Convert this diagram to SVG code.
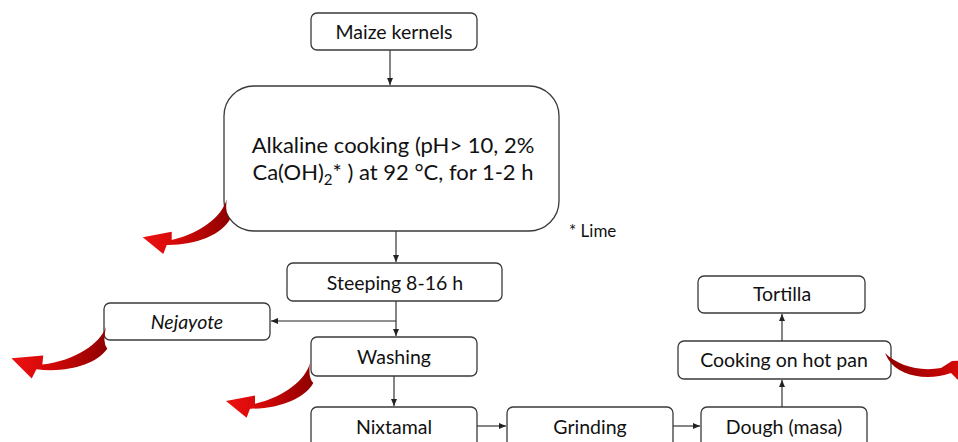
<svg xmlns="http://www.w3.org/2000/svg" width="958" height="442" viewBox="0 0 958 442">
<defs>
<style>
.box{fill:#fff;stroke:#3a3a3a;stroke-width:1.3}
.lbl{font-family:Lato,"Open Sans","Liberation Sans",sans-serif;font-size:19.5px;fill:#111;text-anchor:middle}
.big{font-family:Lato,"Open Sans","Liberation Sans",sans-serif;font-size:22px;fill:#111;text-anchor:middle}
.con{stroke:#222;stroke-width:1.1;fill:none}
</style>
<marker id="ah" markerWidth="8" markerHeight="8" refX="7" refY="4" orient="auto" markerUnits="userSpaceOnUse">
<path d="M0,1 L7,4 L0,7 Z" fill="#222"/>
</marker>
<linearGradient id="rg" x1="0" y1="0" x2="1" y2="0">
<stop offset="0" stop-color="#ee1111"/>
<stop offset="0.45" stop-color="#d00808"/>
<stop offset="1" stop-color="#8e0000"/>
</linearGradient>
<linearGradient id="rg2" x1="0" y1="0" x2="1" y2="0">
<stop offset="0" stop-color="#8e0000"/>
<stop offset="0.6" stop-color="#c00404"/>
<stop offset="1" stop-color="#e81010"/>
</linearGradient>
<path id="red" d="M0 0 C-4 16 -25 34 -55 40.7 L-55 32.4 L-84 38 L-63.4 54.7 L-60 45.7 C-30 46 -5 35 3.3 20 Q-2 15 0 0 Z" fill="url(#rg)"/>
</defs>

<g id="connectors">
<line class="con" x1="390" y1="50" x2="390" y2="85" marker-end="url(#ah)"/>
<line class="con" x1="396" y1="231" x2="396" y2="262" marker-end="url(#ah)"/>
<line class="con" x1="396" y1="301" x2="396" y2="336" marker-end="url(#ah)"/>
<line class="con" x1="396" y1="321" x2="271" y2="321" marker-end="url(#ah)"/>
<line class="con" x1="394" y1="376" x2="394" y2="406" marker-end="url(#ah)"/>
<line class="con" x1="477" y1="426" x2="506" y2="426" marker-end="url(#ah)"/>
<line class="con" x1="673" y1="426" x2="700" y2="426" marker-end="url(#ah)"/>
<line class="con" x1="782" y1="407" x2="782" y2="380" marker-end="url(#ah)"/>
<line class="con" x1="782" y1="341" x2="782" y2="314" marker-end="url(#ah)"/>
</g>

<g id="maize"><rect class="box" x="311" y="13" width="166" height="37" rx="6"/><text class="lbl" x="394" y="39">Maize kernels</text></g>
<g id="alkaline"><rect class="box" x="224" y="86" width="335" height="145" rx="30"/>
<text class="big" x="393" y="153">Alkaline cooking (pH&gt; 10, 2%</text>
<text class="big" x="393" y="180">Ca(OH)<tspan font-size="15" dy="5">2</tspan><tspan dy="-5">* ) at 92 °C, for 1-2 h</tspan></text></g>
<g id="lime"><text x="569" y="237" style="font-family:Lato,'Open Sans',sans-serif;font-size:17px;fill:#111">* Lime</text></g>
<g id="steeping"><rect class="box" x="287" y="263" width="215" height="38" rx="6"/><text class="lbl" x="395" y="290">Steeping 8-16 h</text></g>
<g id="nejayote"><rect class="box" x="104" y="303" width="166" height="37" rx="6"/><text class="lbl" x="187" y="329" font-style="italic">Nejayote</text></g>
<g id="washing"><rect class="box" x="311" y="337" width="166" height="39" rx="6"/><text class="lbl" x="394" y="364">Washing</text></g>
<g id="nixtamal"><rect class="box" x="311" y="407" width="166" height="45" rx="6"/><text class="lbl" x="394" y="434">Nixtamal</text></g>
<g id="grinding"><rect class="box" x="507" y="407" width="166" height="45" rx="6"/><text class="lbl" x="590" y="434">Grinding</text></g>
<g id="dough"><rect class="box" x="701" y="407" width="166" height="45" rx="6"/><text class="lbl" x="784" y="434">Dough (masa)</text></g>
<g id="cooking"><rect class="box" x="678" y="341" width="213" height="38" rx="6"/><text class="lbl" x="784" y="367">Cooking on hot pan</text></g>
<g id="tortilla"><rect class="box" x="698" y="276" width="167" height="37" rx="6"/><text class="lbl" x="782" y="301">Tortilla</text></g>

<g id="red-arrows">
<use href="#red" x="226.7" y="199.3"/>
<use href="#red" transform="translate(106 327) rotate(6) scale(1.08)"/>
<use href="#red" x="310" y="363"/>
<path d="M885 353 C897 365 918 372 941 368 L952 361 L975 360 L960 382 L951 373 C928 381 899 377 888 359 Z" fill="url(#rg2)"/>
</g>
</svg>
